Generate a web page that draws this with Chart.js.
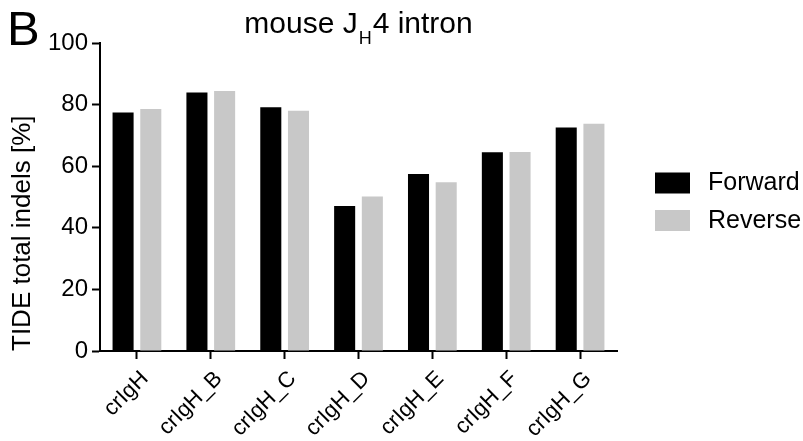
<!DOCTYPE html>
<html>
<head>
<meta charset="utf-8">
<script src="https://cdn.jsdelivr.net/npm/chart.js@4.4.1/dist/chart.umd.min.js"></script>
<style>
  html, body { margin: 0; padding: 0; background: #ffffff; }
  #wrap { width: 803px; height: 441px; }
</style>
</head>
<body>
<div id="wrap"><canvas id="c" width="803" height="441"></canvas></div>
<script>
const categories = ["crIgH", "crIgH_B", "crIgH_C", "crIgH_D", "crIgH_E", "crIgH_F", "crIgH_G"];
const forwardValues = [77.4, 83.9, 79.1, 47.1, 57.5, 64.5, 72.6];
const reverseValues = [78.6, 84.4, 78.0, 50.2, 54.8, 64.6, 73.8];
const yTicks = [0, 20, 40, 60, 80, 100];
const seriesNames = ["Forward", "Reverse"];
const panelLabel = "B";
const titleParts = ["mouse J", "H", "4 intron"];
const yTitle = "TIDE total indels [%]";

const FONT = "'Liberation Sans', Arial, Helvetica, sans-serif";

const titlePlugin = {
  id: 'titleAndPanel',
  afterDraw(chart) {
    const ctx = chart.ctx;
    const area = chart.chartArea;
    ctx.save();
    ctx.fillStyle = '#000';
    ctx.textBaseline = 'alphabetic';
    ctx.textAlign = 'left';
    // panel label
    ctx.font = "49px " + FONT;
    ctx.fillText(panelLabel, 7, 45);
    // title with subscript
    const mainFont = "30px " + FONT;
    const subFont = "18px " + FONT;
    ctx.font = mainFont;
    const w1 = ctx.measureText(titleParts[0]).width;
    const w3 = ctx.measureText(titleParts[2]).width;
    ctx.font = subFont;
    const w2 = ctx.measureText(titleParts[1]).width;
    const total = w1 + w2 + w3 + 2;
    const cx = (area.left + area.right) / 2;
    let x = cx - total / 2;
    const base = 33;
    ctx.font = mainFont;
    ctx.fillText(titleParts[0], x, base);
    x += w1 + 1;
    ctx.font = subFont;
    ctx.fillText(titleParts[1], x, base + 11);
    x += w2 + 1;
    ctx.font = mainFont;
    ctx.fillText(titleParts[2], x, base);
    ctx.restore();
  }
};

const legendPlugin = {
  id: 'sideLegend',
  afterDraw(chart) {
    const ctx = chart.ctx;
    ctx.save();
    ctx.font = "25px " + FONT;
    ctx.textBaseline = 'middle';
    ctx.textAlign = 'left';
    chart.data.datasets.forEach((ds, i) => {
      const y = 172.5 + i * 37.5;
      ctx.fillStyle = ds.backgroundColor;
      ctx.fillRect(655, y, 35, 21);
      ctx.fillStyle = '#000';
      ctx.fillText(ds.label, 708, y + 11);
    });
    ctx.restore();
  }
};

new Chart(document.getElementById('c'), {
  type: 'bar',
  data: {
    labels: categories,
    datasets: [
      { label: seriesNames[0], data: forwardValues, backgroundColor: '#000000', borderColor: '#000000', borderWidth: 0 },
      { label: seriesNames[1], data: reverseValues, backgroundColor: '#c8c8c8', borderColor: '#c8c8c8', borderWidth: 0 }
    ]
  },
  options: {
    responsive: false,
    animation: false,
    devicePixelRatio: 1,
    layout: { padding: { top: 43, left: 0, right: 186, bottom: 0 } },
    datasets: { bar: { categoryPercentage: 0.75, barPercentage: 0.76 } },
    plugins: {
      legend: { display: false },
      title: { display: false },
      tooltip: { enabled: false }
    },
    scales: {
      x: {
        offset: true,
        grid: { display: true, drawOnChartArea: false, drawTicks: true, tickLength: 8, tickWidth: 2, tickColor: '#000', offset: false },
        border: { display: true, width: 2, color: '#000' },
        ticks: { color: '#000', font: { family: FONT, size: 22 }, maxRotation: 45, minRotation: 45, autoSkip: false, padding: 7, labelOffset: 8 },
        afterFit(scale) { scale.height = 90; }
      },
      y: {
        min: 0, max: 100,
        afterBuildTicks(scale) { scale.ticks = yTicks.map(v => ({ value: v })); },
        grid: { display: true, drawOnChartArea: false, drawTicks: true, tickLength: 8, tickWidth: 2, tickColor: '#000' },
        border: { display: true, width: 2, color: '#000' },
        ticks: { color: '#000', font: { family: FONT, size: 24 }, padding: 4 },
        title: { display: true, text: yTitle, align: 'start', color: '#000', font: { family: FONT, size: 26 }, padding: { top: 7, bottom: 0 } },
        afterFit(scale) { scale.width = 100; }
      }
    }
  },
  plugins: [titlePlugin, legendPlugin]
});
</script>
</body>
</html>
